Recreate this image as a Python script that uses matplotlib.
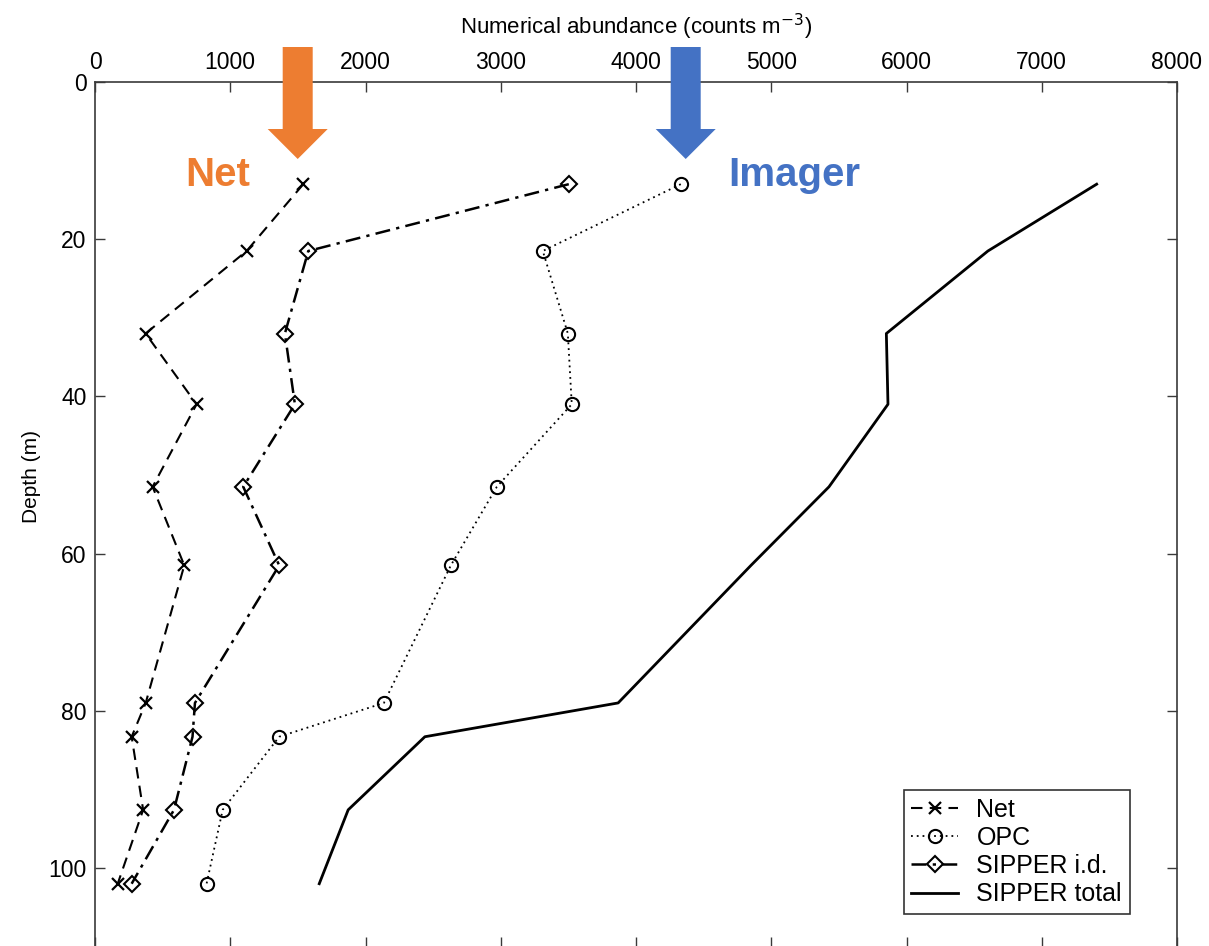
import matplotlib
matplotlib.use("Agg")
import matplotlib.pyplot as plt
from matplotlib.patches import Polygon

plt.rcParams['font.family'] = ['Liberation Sans', 'DejaVu Sans']

# ---- data ----
depth = [13, 21.5, 32, 41, 51.5, 61.5, 79, 83.3, 92.6, 102]
net = [1540, 1121, 374, 751, 426, 660, 375, 271, 356, 168]
opc = [4331, 3311, 3496, 3525, 2971, 2631, 2136, 1362, 944, 825]
sipper_id = [3503, 1577, 1404, 1478, 1096, 1362, 739, 721, 584, 271]
sipper_total = [7406, 6602, 5851, 5863, 5427, 4850, 3868, 2439, 1872, 1658]
series_labels = ["Net", "OPC", "SIPPER i.d.", "SIPPER total"]
x_ticks = [0, 1000, 2000, 3000, 4000, 5000, 6000, 7000, 8000]
y_ticks = [0, 20, 40, 60, 80, 100]
arrow_labels = ["Net", "Imager"]

W, H = 1209, 946
fig = plt.figure(figsize=(W / 100, H / 100), dpi=100)
left, right, top = 95 / W, 1177 / W, 1 - 82 / H
bottom = 1 - 946.6 / H
ax = fig.add_axes([left, bottom, right - left, top - bottom])

spine_c = '#3a3a3a'
ax.plot(net, depth, linestyle=(0, (5.5, 3.5)), color='black', lw=1.5,
        marker='x', ms=9, mew=1.6, label=series_labels[0])
ax.plot(opc, depth, linestyle=(0, (1, 2.2)), color='black', lw=1.3,
        marker='o', ms=9.5, mfc='none', mew=1.5, label=series_labels[1])
ax.plot(sipper_id, depth, linestyle=(0, (6, 2.5, 1.3, 2.5)), color='black', lw=1.8,
        marker='D', ms=8.5, mfc='none', mew=1.5, label=series_labels[2])
ax.plot(sipper_total, depth, linestyle='-', color='black', lw=2.0,
        label=series_labels[3])

ax.set_xlim(0, 8000)
ax.set_ylim(110, 0)
ax.set_xticks(x_ticks)
ax.set_yticks(y_ticks)
ax.xaxis.tick_top()
ax.xaxis.set_label_position('top')
ax.tick_params(axis='both', which='both', direction='in', length=7, width=1.0,
               color=spine_c, labelsize=16.5, pad=6,
               top=True, bottom=True, left=True, right=True,
               labeltop=True, labelbottom=False, labelleft=True, labelright=False)
for s in ax.spines.values():
    s.set_color(spine_c)
    s.set_linewidth(1.2)

ax.set_xlabel("Numerical abundance (counts m$^{-3}$)", fontsize=16, labelpad=12)
ax.set_ylabel("Depth (m)", fontsize=15, labelpad=5)
ax.yaxis.label.set_y((946.6 - 476) / 864.6)

leg = ax.legend(loc='upper left', bbox_to_anchor=(904 / W, 1 - 790 / H),
                bbox_transform=fig.transFigure, borderaxespad=0, fontsize=18,
                frameon=True, fancybox=False, framealpha=1, edgecolor='#333333',
                handlelength=1.85, handletextpad=0.75, labelspacing=0.17,
                borderpad=0.3)
leg.get_frame().set_linewidth(1.2)


# ---- annotation arrows (figure pixel geometry) ----
def arrow(cx, color):
    sw, hw = 15, 30
    y0, yh, yt = 47, 129, 159
    pts = [(cx - sw, y0), (cx + sw, y0), (cx + sw, yh), (cx + hw, yh),
           (cx, yt), (cx - hw, yh), (cx - sw, yh)]
    pts = [(x / W, 1 - y / H) for x, y in pts]
    fig.patches.append(Polygon(pts, closed=True, facecolor=color, edgecolor='none',
                               transform=fig.transFigure, zorder=10))


orange, blue = '#ED7D31', '#4472C4'
arrow(297.7, orange)
arrow(685.7, blue)
fig.text(218 / W, 1 - 175 / H, arrow_labels[0], color=orange, fontsize=29,
         fontweight='bold', ha='center', va='center')
fig.text(794 / W, 1 - 175 / H, arrow_labels[1], color=blue, fontsize=29,
         fontweight='bold', ha='center', va='center')

fig.savefig("out.png", dpi=100)
